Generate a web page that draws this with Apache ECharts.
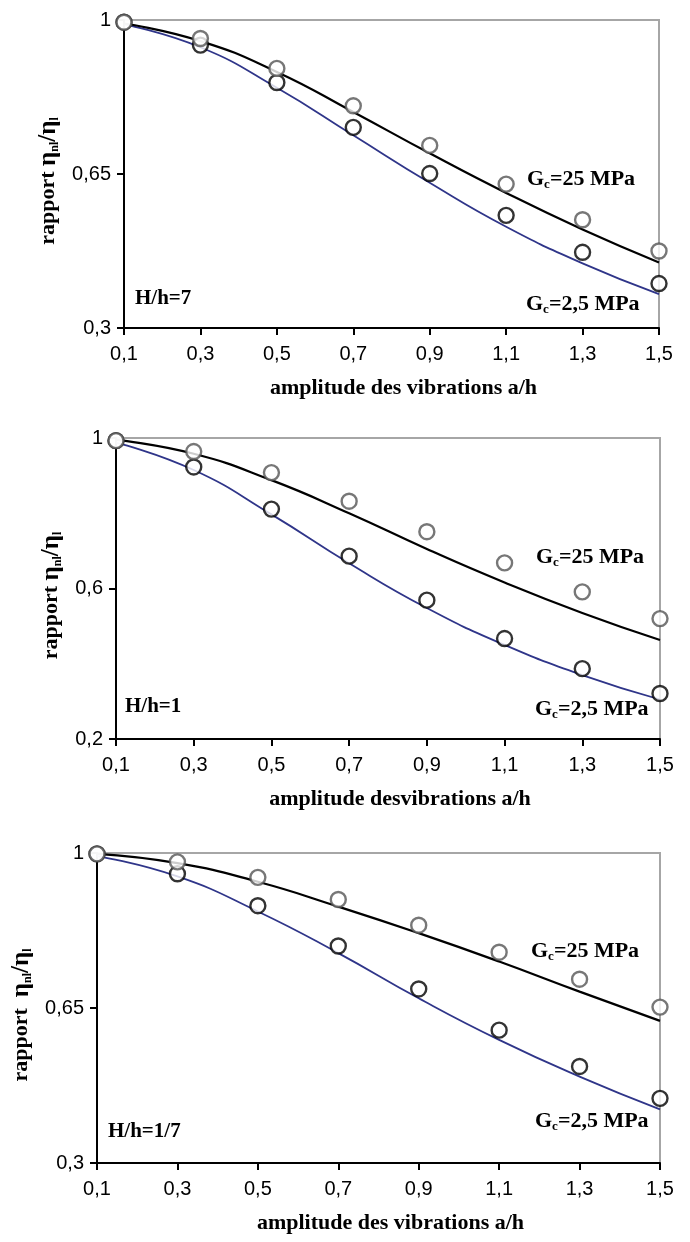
<!DOCTYPE html>
<html><head><meta charset="utf-8">
<script src="https://cdn.jsdelivr.net/npm/echarts@6/dist/echarts.min.js"></script>
<style>html,body{margin:0;padding:0;background:#fff}#c{width:690px;height:1242px}</style>
</head><body><div id="c"></div>
<script>
// ---- data ----
const xValues = [0.1, 0.3, 0.5, 0.7, 0.9, 1.1, 1.3, 1.5];
const xTickLabels = [0.1, 0.3, 0.5, 0.7, 0.9, 1.1, 1.3, 1.5];

const yTicks1 = [0.3, 0.65, 1];
const yTicks2 = [0.2, 0.6, 1];
const yTicks3 = [0.3, 0.65, 1];

// Panel 1 : H/h=7
const p1Meas25  = [0.995, 0.958, 0.890, 0.805, 0.715, 0.627, 0.546, 0.475];
const p1Meas2_5 = [0.995, 0.943, 0.858, 0.756, 0.651, 0.556, 0.472, 0.401];
const p1Model25  = [0.992, 0.952, 0.882, 0.791, 0.697, 0.607, 0.524, 0.449];
const p1Model2_5 = [0.990, 0.938, 0.846, 0.738, 0.630, 0.530, 0.447, 0.377];

// Panel 2 : H/h=1
const p2Meas25  = [0.993, 0.964, 0.908, 0.832, 0.751, 0.668, 0.591, 0.520];
const p2Meas2_5 = [0.993, 0.923, 0.811, 0.686, 0.569, 0.467, 0.387, 0.321];
const p2Model25  = [0.995, 0.958, 0.888, 0.800, 0.705, 0.616, 0.535, 0.463];
const p2Model2_5 = [0.988, 0.915, 0.797, 0.667, 0.548, 0.450, 0.370, 0.305];

// Panel 3 : H/h=1/7
const p3Meas25  = [0.998, 0.980, 0.945, 0.895, 0.837, 0.776, 0.715, 0.652];
const p3Meas2_5 = [0.998, 0.953, 0.881, 0.790, 0.693, 0.600, 0.518, 0.446];
const p3Model25  = [0.998, 0.977, 0.935, 0.879, 0.819, 0.755, 0.687, 0.621];
const p3Model2_5 = [0.993, 0.947, 0.868, 0.774, 0.672, 0.578, 0.495, 0.421];

const xTitles = ['amplitude des vibrations a/h', 'amplitude desvibrations a/h', 'amplitude des vibrations a/h'];
const yTitles = ['{t|rapport }{e|η}{s|nl}{e|/η}{s|l}', '{t|rapport }{e|η}{s|nl}{e|/η}{s|l}', '{t|rapport  }{e|η}{s|nl}{e|/η}{s|l}'];
const caseLabels = ['H/h=7', 'H/h=1', 'H/h=1/7'];
const label25 = '{g|G}{s|c}{g|=25 MPa}';
const label2_5 = '{g|G}{s|c}{g|=2,5 MPa}';

// ---- layout / style ----
const panels = [
  {grid:{left:124, top:20, width:535, height:308}, yMin:0.3, yTicks:yTicks1, yGap:59,
   data:[p1Meas25,p1Meas2_5,p1Model25,p1Model2_5], a25:[527,179], a2:[526,304], hc:[135,299]},
  {grid:{left:116, top:438, width:544, height:301}, yMin:0.2, yTicks:yTicks2, yGap:40,
   data:[p2Meas25,p2Meas2_5,p2Model25,p2Model2_5], a25:[536,557], a2:[535,709], hc:[125,707]},
  {grid:{left:97, top:853, width:563, height:310}, yMin:0.3, yTicks:yTicks3, yGap:59,
   data:[p3Meas25,p3Meas2_5,p3Model25,p3Model2_5], a25:[531,951], a2:[535,1121], hc:[108,1132]}
];

const SERIF = '"Liberation Serif", "Times New Roman", serif';
const SANS = '"Liberation Sans", Arial, sans-serif';
const fmt = v => String(v).replace('.', ',');
const pairs = arr => arr.map((v, i) => [xValues[i], v]);

const grids = [], xAxes = [], yAxes = [], series = [], graphics = [];
const richName = {
  t: {fontFamily: SERIF, fontWeight: 'bold', fontSize: 22, lineHeight: 26, color: '#000'},
  e: {fontFamily: SERIF, fontWeight: 'bold', fontSize: 25, lineHeight: 26, color: '#000'},
  s: {fontFamily: SERIF, fontWeight: 'bold', fontSize: 12, lineHeight: 12, verticalAlign: 'bottom', color: '#000'}
};
const richAnn = {
  g: {fontFamily: SERIF, fontWeight: 'bold', fontSize: 22, lineHeight: 24, fill: '#000'},
  s: {fontFamily: SERIF, fontWeight: 'bold', fontSize: 13, lineHeight: 13, verticalAlign: 'bottom', fill: '#000'}
};

panels.forEach((p, i) => {
  grids.push(Object.assign({show: true, borderColor: '#a6a6a6', borderWidth: 2, backgroundColor: 'transparent'}, p.grid));
  xAxes.push({
    type: 'value', gridIndex: i, min: 0.1, max: 1.5,
    axisLine: {show: true, onZero: false, lineStyle: {color: '#000', width: 2}},
    axisTick: {show: true, length: 7, lineStyle: {color: '#000', width: 2}, customValues: xTickLabels},
    axisLabel: {customValues: xTickLabels, formatter: fmt, fontFamily: SANS, fontSize: 20, color: '#000', margin: 16},
    splitLine: {show: false},
    name: xTitles[i], nameLocation: 'middle', nameGap: 49,
    nameTextStyle: {fontFamily: SERIF, fontWeight: 'bold', fontSize: 22, color: '#000', padding: [0, 0, 0, 24]}
  });
  yAxes.push({
    type: 'value', gridIndex: i, min: p.yMin, max: 1,
    axisLine: {show: true, onZero: false, lineStyle: {color: '#000', width: 2}},
    axisTick: {show: true, length: 7, lineStyle: {color: '#000', width: 2}, customValues: p.yTicks},
    axisLabel: {customValues: p.yTicks, formatter: fmt, fontFamily: SANS, fontSize: 20, color: '#000', margin: 13},
    splitLine: {show: false},
    name: yTitles[i], nameLocation: 'middle', nameGap: p.yGap,
    nameTextStyle: {fontFamily: SERIF, fontWeight: 'bold', fontSize: 22, color: '#000', padding: [0, 14, 0, 0], rich: richName}
  });
  const [m25, m2, l25, l2] = p.data;
  series.push({type: 'line', xAxisIndex: i, yAxisIndex: i, data: pairs(l2), smooth: true, symbol: 'none',
    lineStyle: {color: '#2f3589', width: 1.8}, z: 2});
  series.push({type: 'line', xAxisIndex: i, yAxisIndex: i, data: pairs(l25), smooth: true, symbol: 'none',
    lineStyle: {color: '#000', width: 2.2}, z: 3});
  series.push({type: 'scatter', xAxisIndex: i, yAxisIndex: i, data: pairs(m2), symbol: 'circle', symbolSize: 15,
    itemStyle: {color: '#fff', borderColor: '#000', borderWidth: 2.4}, z: 4});
  series.push({type: 'scatter', xAxisIndex: i, yAxisIndex: i, data: pairs(m25), symbol: 'circle', symbolSize: 15,
    itemStyle: {color: '#fff', borderColor: '#555', borderWidth: 2.4}, z: 5});
  graphics.push({type: 'text', x: p.a25[0], y: p.a25[1], style: {text: label25, rich: richAnn, verticalAlign: 'middle'}});
  graphics.push({type: 'text', x: p.a2[0], y: p.a2[1], style: {text: label2_5, rich: richAnn, verticalAlign: 'middle'}});
  graphics.push({type: 'text', x: p.hc[0], y: p.hc[1], style: {text: caseLabels[i], fill: '#000',
    font: 'bold 21px ' + SERIF, verticalAlign: 'middle'}});
});

const chart = echarts.init(document.getElementById('c'), null, {renderer: 'canvas'});
chart.setOption({
  animation: false,
  backgroundColor: '#fff',
  grid: grids, xAxis: xAxes, yAxis: yAxes, series: series, graphic: graphics
});
</script></body></html>
